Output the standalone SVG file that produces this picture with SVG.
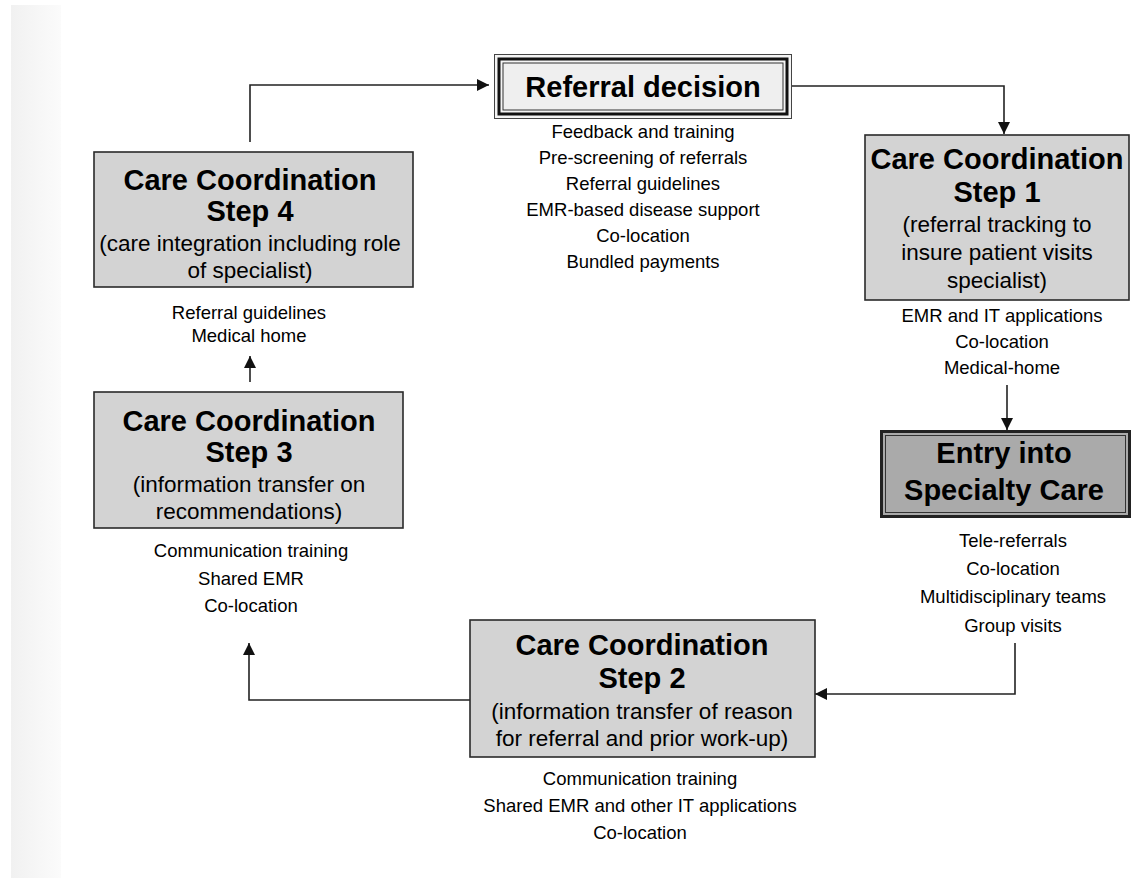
<svg xmlns="http://www.w3.org/2000/svg" width="1133" height="878" viewBox="0 0 1133 878">
<style>
text{font-family:"Liberation Sans",Arial,Helvetica,sans-serif;fill:#000;text-anchor:middle}
.t{font-size:29px;font-weight:bold}
.s{font-size:22.5px}
.l{font-size:18.5px}
.box{fill:#d3d3d3;stroke:#2a2a2a;stroke-width:1.6}
.c{fill:none;stroke:#222;stroke-width:1.6}
</style>
<defs>
<linearGradient id="g" x1="0" y1="0" x2="1" y2="0">
<stop offset="0" stop-color="#f1f1f1"/>
<stop offset="1" stop-color="#fbfbfb"/>
</linearGradient>
<marker id="a" viewBox="0 0 12 12" refX="12" refY="6" markerWidth="12" markerHeight="12" markerUnits="userSpaceOnUse" orient="auto">
<path d="M0,0 L12,6 L0,12 z" fill="#111"/>
</marker>
</defs>
<rect x="0" y="0" width="1133" height="878" fill="#fff"/>
<rect x="11" y="5" width="50" height="873" fill="url(#g)"/>

<g id="connectors">
<path class="c" d="M250,142 V85 H489" marker-end="url(#a)"/>
<path class="c" d="M792,86 H1004 V134" marker-end="url(#a)"/>
<path class="c" d="M1007,385 V430" marker-end="url(#a)"/>
<path class="c" d="M1015,643 V694 H815" marker-end="url(#a)"/>
<path class="c" d="M470,700 H249 V643" marker-end="url(#a)"/>
<path class="c" d="M250,382 V356" marker-end="url(#a)"/>
</g>

<g id="referral">
<rect x="494.5" y="54.5" width="297" height="64" fill="#f4f4f4" stroke="#444" stroke-width="1"/>
<rect x="499" y="59" width="288" height="55" fill="none" stroke="#111" stroke-width="3"/>
<rect x="503" y="63" width="280" height="47" fill="#efefef" stroke="#333" stroke-width="1"/>
<text class="t" x="643" y="97">Referral decision</text>
<text class="l" x="643" y="138">Feedback and training</text>
<text class="l" x="643" y="164">Pre-screening of referrals</text>
<text class="l" x="643" y="190">Referral guidelines</text>
<text class="l" x="643" y="216">EMR-based disease support</text>
<text class="l" x="643" y="242">Co-location</text>
<text class="l" x="643" y="268">Bundled payments</text>
</g>

<g id="step1">
<rect class="box" x="865" y="135" width="264" height="165"/>
<text class="t" x="997" y="169">Care Coordination</text>
<text class="t" x="997" y="202">Step 1</text>
<text class="s" x="997" y="232">(referral tracking to</text>
<text class="s" x="997" y="260">insure patient visits</text>
<text class="s" x="997" y="288">specialist)</text>
<text class="l" x="1002" y="322">EMR and IT applications</text>
<text class="l" x="1002" y="348">Co-location</text>
<text class="l" x="1002" y="374">Medical-home</text>
</g>

<g id="entry">
<rect x="881.5" y="431.5" width="248" height="85" fill="#aaaaaa" stroke="#222" stroke-width="3"/>
<rect x="885.5" y="435.5" width="240" height="77" fill="none" stroke="#333" stroke-width="1"/>
<text class="t" x="1004" y="463">Entry into</text>
<text class="t" x="1004" y="500">Specialty Care</text>
<text class="l" x="1013" y="547">Tele-referrals</text>
<text class="l" x="1013" y="575">Co-location</text>
<text class="l" x="1013" y="603">Multidisciplinary teams</text>
<text class="l" x="1013" y="632">Group visits</text>
</g>

<g id="step2">
<rect class="box" x="470" y="620" width="345" height="137"/>
<text class="t" x="642" y="655">Care Coordination</text>
<text class="t" x="642" y="688">Step 2</text>
<text class="s" x="642" y="719">(information transfer of reason</text>
<text class="s" x="642" y="746">for referral and prior work-up)</text>
<text class="l" x="640" y="785">Communication training</text>
<text class="l" x="640" y="812">Shared EMR and other IT applications</text>
<text class="l" x="640" y="839">Co-location</text>
</g>

<g id="step3">
<rect class="box" x="94" y="392" width="309" height="136"/>
<text class="t" x="249" y="431">Care Coordination</text>
<text class="t" x="249" y="462">Step 3</text>
<text class="s" x="249" y="492">(information transfer on</text>
<text class="s" x="249" y="519">recommendations)</text>
<text class="l" x="251" y="557">Communication training</text>
<text class="l" x="251" y="585">Shared EMR</text>
<text class="l" x="251" y="612">Co-location</text>
</g>

<g id="step4">
<rect class="box" x="94" y="152" width="319" height="135"/>
<text class="t" x="250" y="190">Care Coordination</text>
<text class="t" x="250" y="221">Step 4</text>
<text class="s" x="250" y="251">(care integration including role</text>
<text class="s" x="250" y="278">of specialist)</text>
<text class="l" x="249" y="319">Referral guidelines</text>
<text class="l" x="249" y="342">Medical home</text>
</g>
</svg>
